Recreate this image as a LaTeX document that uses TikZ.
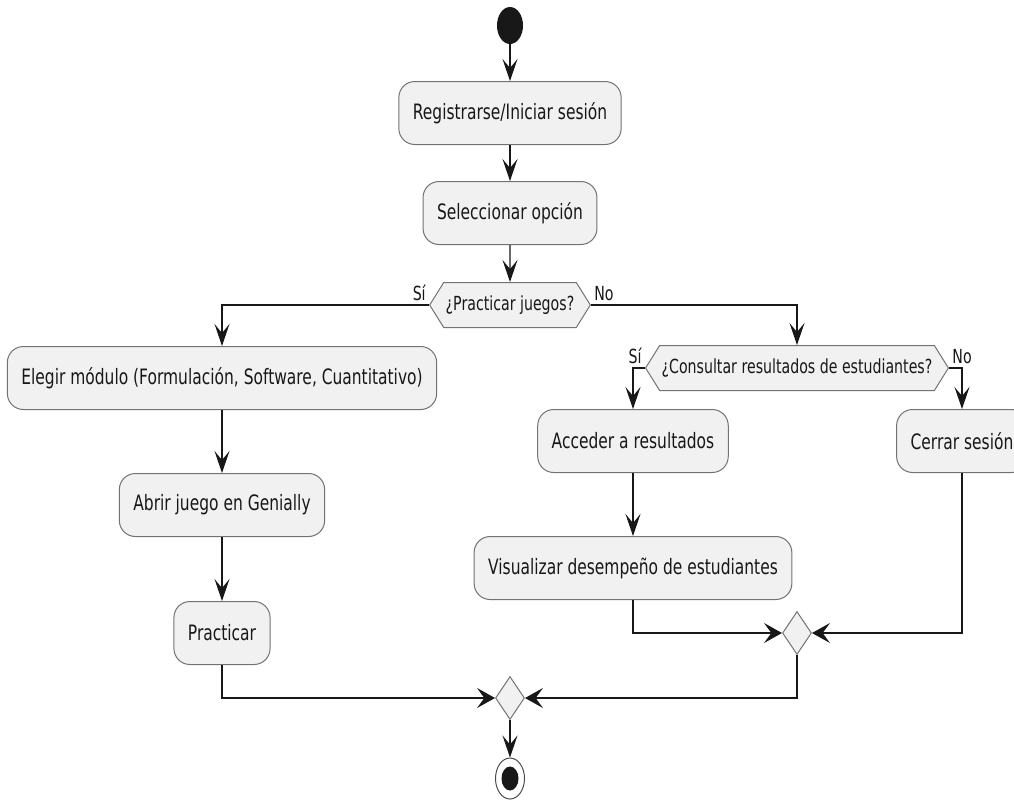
\documentclass[tikz,border=0pt]{standalone}
\usepackage{fontspec}
\setmainfont{DejaVu Sans}[FakeStretch=0.73]
\usetikzlibrary{positioning, arrows.meta, shapes.geometric, shapes.symbols}
\definecolor{actfill}{HTML}{F1F1F1}
\definecolor{actline}{HTML}{181818}

\begin{document}
\begin{tikzpicture}[x=0.5pt, y=-0.5pt]
	\tikzstyle{act}=[draw=black!55, line width=0.5pt, fill=actfill, rounded corners=8pt, minimum height=31.5pt, inner xsep=7pt, text=actline, font=\fontsize{10.6}{12}\selectfont];
	\tikzstyle{cond}=[draw=black!55, line width=0.5pt, fill=actfill, signal, signal to=west and east, signal pointer angle=116, minimum height=22.5pt, inner xsep=1pt, inner ysep=0pt, text=actline, font=\fontsize{9.7}{11}\selectfont];
	\tikzstyle{merge}=[draw=black!55, line width=0.5pt, fill=actfill, diamond, inner sep=0pt, minimum width=14.5pt, minimum height=21.5pt];
	\tikzstyle{lbl}=[inner sep=0.5pt, text=actline, font=\fontsize{9.7}{11}\selectfont];
	\tikzstyle{flow}=[draw=actline, line width=0.6pt, -{Stealth[length=11pt, width=7.5pt, inset=4.5pt]}];
	\tikzstyle{flowh}=[draw=actline, line width=0.6pt, -{Stealth[length=9pt, width=10pt, inset=3.7pt]}];
	\useasboundingbox[fill=white] (0,0) rectangle (1014,800);

	% start and first steps
	\node[ellipse, fill=actline, inner sep=0pt, minimum width=13pt, minimum height=18.5pt] (inicio) at (510,25.5) {};
	\node[act] (registro) at (510,113) {Registrarse/Iniciar sesión};
	\node[act] (seleccion) at (510,213) {Seleccionar opción};
	\node[cond] (qjuegos) at (510,305) {¿Practicar juegos?};
	\node[lbl, anchor=south east] (siJuegos) at ([xshift=-1pt, yshift=1.5pt]qjuegos.west) {Sí};
	\node[lbl, anchor=south west] (noJuegos) at ([xshift=1pt, yshift=1.5pt]qjuegos.east) {No};

	% left branch
	\node[act] (modulo) at (222,378) {Elegir módulo (Formulación, Software, Cuantitativo)};
	\node[act] (genially) at (222,505) {Abrir juego en Genially};
	\node[act] (practicar) at (222,633) {Practicar};

	% right branch
	\node[cond] (qconsulta) at (797,368) {¿Consultar resultados de estudiantes?};
	\node[lbl, anchor=south east] (siConsulta) at ([xshift=-1pt, yshift=1.5pt]qconsulta.west) {Sí};
	\node[lbl, anchor=south west] (noConsulta) at ([xshift=1pt, yshift=1.5pt]qconsulta.east) {No};
	\node[act] (acceder) at (633,441) {Acceder a resultados};
	\node[act] (visualizar) at (633,568) {Visualizar desempeño de estudiantes};
	\node[act] (cerrar) at (962,441) {Cerrar sesión};

	% merges and end
	\node[merge] (mconsulta) at (797,633) {};
	\node[merge] (mfin) at (510,698) {};
	\node[ellipse, draw=black!70, line width=0.5pt, fill=white, inner sep=0pt, minimum width=14.5pt, minimum height=20.5pt] (fin) at (510,778.5) {};
	\node[ellipse, fill=actline, inner sep=0pt, minimum width=8.5pt, minimum height=12pt] (finPunto) at (fin) {};

	\draw[flow] (inicio) -- (registro);
	\draw[flow] (registro) -- (seleccion);
	\draw[flow] (seleccion) -- (qjuegos);
	\draw[flow] (qjuegos.west) -| (modulo.north);
	\draw[flow] (qjuegos.east) -| (qconsulta.north);
	\draw[flow] (modulo) -- (genially);
	\draw[flow] (genially) -- (practicar);
	\draw[flow] (qconsulta.west) -| (acceder.north);
	\draw[flow] (qconsulta.east) -| (cerrar.north);
	\draw[flow] (acceder) -- (visualizar);
	\draw[flowh] (visualizar.south) |- (mconsulta.west);
	\draw[flowh] (cerrar.south) |- (mconsulta.east);
	\draw[flowh] (practicar.south) |- (mfin.west);
	\draw[flowh] (mconsulta.south) |- (mfin.east);
	\draw[flow] (mfin) -- (fin);
\end{tikzpicture}
\end{document}
